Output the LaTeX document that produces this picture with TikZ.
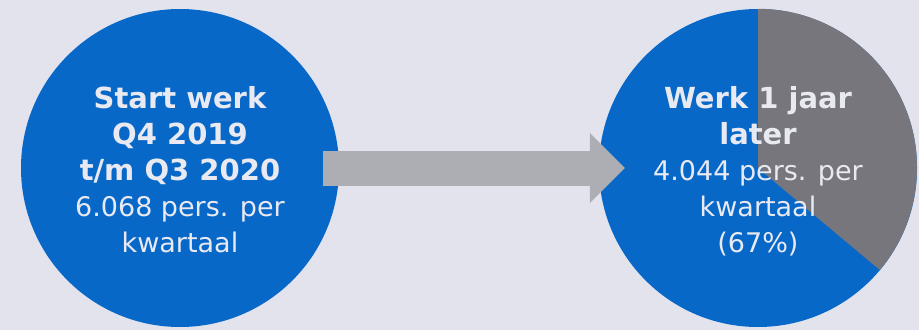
\documentclass[tikz,border=0pt]{standalone}
\usepackage{fontspec}
\setmainfont{DejaVu Sans}
\usetikzlibrary{arrows.meta,calc}
\definecolor{bgc}{HTML}{E3E3EE}
\definecolor{blueC}{HTML}{0868C8}
\definecolor{greyslice}{HTML}{76767C}
\definecolor{arrowgrey}{HTML}{ADADB4}
\definecolor{txtc}{HTML}{E9E9F2}
\newcommand{\bigbold}[1]{{\fontsize{29}{36}\selectfont\bfseries #1}}
\tikzset{
  disc/.style={circle, fill=blueC, minimum size=318pt, inner sep=0pt},
  label text/.style={align=center, text=txtc, inner sep=0pt, anchor=base,
    font=\fontsize{27}{36}\selectfont},
  flow/.style={line width=35pt, draw=arrowgrey,
    -{Triangle[length=35pt 0 0, width=70pt 0 0, line width=0pt, fill=arrowgrey]}}
}
\begin{document}
\begin{tikzpicture}[x=1pt,y=-1pt]
\fill[bgc] (0,0) rectangle (919,330);
\useasboundingbox (0,0) rectangle (919,330);
\node[disc] (c1) at (180,168) {};
\node[disc] (c2) at (758,168) {};
\fill[greyslice] (c2.center) -- (c2.north) arc[start angle=90, end angle=-40, radius=159pt] -- cycle;
\coordinate (a0) at ([xshift=-16pt]c1.east);
\coordinate (a1) at ([xshift=26pt]c2.west);
\draw[flow] (a0) -- (a1);
\node[label text] (t1) at (180,252) {\bigbold{Start werk}\\\bigbold{Q4 2019}\\\bigbold{t/m Q3 2020}\\6.068 pers. per\\kwartaal};
\node[label text] (t2) at (758,252) {\bigbold{Werk 1 jaar}\\\bigbold{later}\\4.044 pers. per\\kwartaal\\(67\%)};
\end{tikzpicture}
\end{document}
